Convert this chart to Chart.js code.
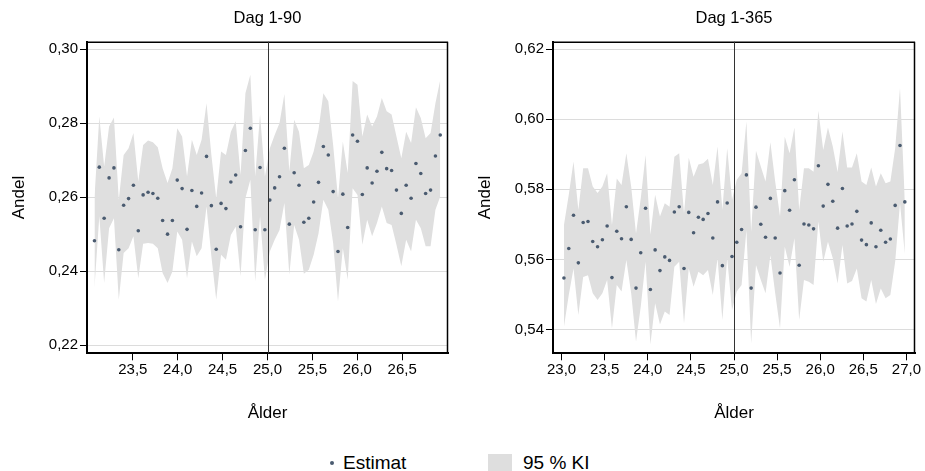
<!DOCTYPE html>
<html>
<head>
<meta charset="utf-8">
<script src="https://cdn.jsdelivr.net/npm/chart.js@4/dist/chart.umd.min.js"></script>
<style>
  body { margin: 0; background: #fff; font-family: "Liberation Sans", Arial, sans-serif; }
  #wrap { position: relative; width: 925px; height: 471px; }
  canvas { position: absolute; top: 0; }
  #left { left: 0; }
  #right { left: 462px; }
  .leg { position: absolute; font-size: 19px; color: #000; line-height: 20px; }
  .dot { position: absolute; width: 4px; height: 4px; border-radius: 50%; background: #4a5b70; }
  .box { position: absolute; background: #dedede; }
</style>
</head>
<body>
<div id="wrap">
  <canvas id="left" width="462" height="430"></canvas>
  <canvas id="right" width="463" height="430"></canvas>
  <div class="dot" style="left:330px; top:461px;"></div>
  <div class="leg" style="left:343px; top:453px;">Estimat</div>
  <div class="box" style="left:488px; top:454px; width:24px; height:17px;"></div>
  <div class="leg" style="left:523px; top:453px;">95 % KI</div>
</div>
<script>
// ---- Dag 1-90 ----
const ageLeft = [
  23.073, 23.127, 23.181, 23.236, 23.290, 23.344, 23.398, 23.453, 23.507, 23.561,
  23.615, 23.670, 23.724, 23.778, 23.832, 23.887, 23.941, 23.995, 24.049, 24.104,
  24.158, 24.212, 24.266, 24.321, 24.375, 24.429, 24.483, 24.537, 24.592, 24.646,
  24.700, 24.754, 24.809, 24.863, 24.917, 24.971, 25.026, 25.080, 25.134, 25.188,
  25.243, 25.297, 25.351, 25.405, 25.460, 25.514, 25.568, 25.622, 25.677, 25.731,
  25.785, 25.839, 25.893, 25.948, 26.002, 26.056, 26.110, 26.165, 26.219, 26.273,
  26.327, 26.382, 26.436, 26.490, 26.544, 26.599, 26.653, 26.707, 26.761, 26.816,
  26.870, 26.924
];
const estLeft = [
  0.2482, 0.2681, 0.2543, 0.2652, 0.2679, 0.2458, 0.2578, 0.2596, 0.2632, 0.2509,
  0.2606, 0.2613, 0.2610, 0.2597, 0.2537, 0.2500, 0.2537, 0.2646, 0.2623, 0.2513,
  0.2618, 0.2575, 0.2611, 0.2710, 0.2577, 0.2459, 0.2583, 0.2569, 0.2641, 0.2660,
  0.2520, 0.2726, 0.2786, 0.2512, 0.2680, 0.2512, 0.2592, 0.2625, 0.2655, 0.2732,
  0.2527, 0.2666, 0.2632, 0.2532, 0.2543, 0.2587, 0.2640, 0.2737, 0.2714, 0.2615,
  0.2453, 0.2608, 0.2518, 0.2768, 0.2751, 0.2607, 0.2679, 0.2638, 0.2670, 0.2721,
  0.2677, 0.2672, 0.2619, 0.2556, 0.2632, 0.2597, 0.2691, 0.2664, 0.2610, 0.2619,
  0.2711, 0.2768
];
const highLeft = [
  0.2597, 0.2818, 0.2683, 0.2791, 0.2815, 0.2593, 0.2714, 0.2732, 0.2773, 0.2642,
  0.2741, 0.2753, 0.2748, 0.2735, 0.2678, 0.2638, 0.2678, 0.2786, 0.2764, 0.2656,
  0.2755, 0.2714, 0.2755, 0.2854, 0.2714, 0.2597, 0.2723, 0.2714, 0.2777, 0.2805,
  0.2660, 0.2881, 0.2931, 0.2656, 0.2823, 0.2656, 0.2732, 0.2768, 0.2800, 0.2879,
  0.2669, 0.2809, 0.2777, 0.2678, 0.2687, 0.2723, 0.2782, 0.2881, 0.2859, 0.2741,
  0.2597, 0.2750, 0.2665, 0.2914, 0.2904, 0.2764, 0.2823, 0.2791, 0.2818, 0.2868,
  0.2832, 0.2823, 0.2764, 0.2705, 0.2777, 0.2746, 0.2843, 0.2814, 0.2759, 0.2773,
  0.2854, 0.2917
];
const lowLeft = [
  0.2354, 0.2548, 0.2368, 0.2516, 0.2543, 0.2323, 0.2449, 0.2462, 0.2494, 0.2381,
  0.2474, 0.2476, 0.2474, 0.2462, 0.2395, 0.2368, 0.2399, 0.2507, 0.2485, 0.2381,
  0.2480, 0.2440, 0.2462, 0.2575, 0.2440, 0.2323, 0.2444, 0.2431, 0.2498, 0.2520,
  0.2386, 0.2597, 0.2647, 0.2372, 0.2548, 0.2377, 0.2453, 0.2485, 0.2511, 0.2584,
  0.2390, 0.2525, 0.2485, 0.2393, 0.2404, 0.2444, 0.2502, 0.2593, 0.2566, 0.2476,
  0.2318, 0.2462, 0.2377, 0.2624, 0.2606, 0.2471, 0.2539, 0.2494, 0.2530, 0.2575,
  0.2530, 0.2525, 0.2471, 0.2413, 0.2485, 0.2453, 0.2539, 0.2516, 0.2467, 0.2467,
  0.2566, 0.2602
];
const xTicksLeft = [23.5, 24.0, 24.5, 25.0, 25.5, 26.0, 26.5];
const yTicksLeft = [0.22, 0.24, 0.26, 0.28, 0.30];

// ---- Dag 1-365 ----
const ageRight = [
  23.027, 23.083, 23.138, 23.194, 23.250, 23.306, 23.361, 23.417, 23.473, 23.528,
  23.584, 23.640, 23.695, 23.751, 23.807, 23.863, 23.918, 23.974, 24.030, 24.085,
  24.141, 24.197, 24.252, 24.308, 24.364, 24.420, 24.475, 24.531, 24.587, 24.642,
  24.698, 24.754, 24.809, 24.865, 24.921, 24.977, 25.032, 25.088, 25.144, 25.199,
  25.255, 25.311, 25.366, 25.422, 25.478, 25.534, 25.589, 25.645, 25.701, 25.756,
  25.812, 25.868, 25.923, 25.979, 26.035, 26.090, 26.146, 26.202, 26.258, 26.313,
  26.369, 26.425, 26.480, 26.536, 26.592, 26.647, 26.703, 26.759, 26.814, 26.870,
  26.926, 26.982
];
const estRight = [
  0.5547, 0.5631, 0.5726, 0.5590, 0.5705, 0.5708, 0.5651, 0.5636, 0.5656, 0.5695,
  0.5548, 0.5680, 0.5659, 0.5750, 0.5657, 0.5518, 0.5619, 0.5746, 0.5514, 0.5627,
  0.5568, 0.5607, 0.5597, 0.5735, 0.5750, 0.5574, 0.5734, 0.5676, 0.5720, 0.5714,
  0.5731, 0.5661, 0.5764, 0.5582, 0.5761, 0.5608, 0.5649, 0.5685, 0.5841, 0.5518,
  0.5749, 0.5700, 0.5663, 0.5774, 0.5661, 0.5561, 0.5796, 0.5740, 0.5827, 0.5583,
  0.5701, 0.5698, 0.5687, 0.5867, 0.5752, 0.5814, 0.5766, 0.5689, 0.5802, 0.5695,
  0.5701, 0.5737, 0.5655, 0.5642, 0.5704, 0.5636, 0.5683, 0.5649, 0.5658, 0.5754,
  0.5925, 0.5764
];
const highRight = [
  0.5698, 0.5784, 0.5879, 0.5741, 0.5860, 0.5860, 0.5808, 0.5789, 0.5808, 0.5846,
  0.5698, 0.5831, 0.5812, 0.5903, 0.5808, 0.5674, 0.5774, 0.5898, 0.5670, 0.5784,
  0.5722, 0.5760, 0.5750, 0.5893, 0.5903, 0.5731, 0.5890, 0.5836, 0.5871, 0.5874,
  0.5887, 0.5812, 0.5922, 0.5741, 0.5917, 0.5770, 0.5827, 0.5846, 0.5993, 0.5679,
  0.5910, 0.5865, 0.5822, 0.5934, 0.5822, 0.5722, 0.5950, 0.5903, 0.5976, 0.5741,
  0.5860, 0.5860, 0.5850, 0.6024, 0.5912, 0.5976, 0.5922, 0.5849, 0.5965, 0.5862,
  0.5862, 0.5903, 0.5822, 0.5812, 0.5862, 0.5808, 0.5846, 0.5817, 0.5822, 0.5917,
  0.6089, 0.5765
];
const lowRight = [
  0.5408, 0.5498, 0.5574, 0.5441, 0.5550, 0.5555, 0.5503, 0.5484, 0.5503, 0.5541,
  0.5403, 0.5527, 0.5508, 0.5598, 0.5503, 0.5365, 0.5465, 0.5593, 0.5357, 0.5475,
  0.5414, 0.5451, 0.5441, 0.5579, 0.5593, 0.5417, 0.5574, 0.5522, 0.5565, 0.5555,
  0.5570, 0.5498, 0.5603, 0.5427, 0.5603, 0.5455, 0.5508, 0.5527, 0.5684, 0.5360,
  0.5584, 0.5541, 0.5503, 0.5612, 0.5503, 0.5403, 0.5636, 0.5579, 0.5660, 0.5427,
  0.5541, 0.5536, 0.5527, 0.5708, 0.5593, 0.5650, 0.5603, 0.5531, 0.5641, 0.5531,
  0.5538, 0.5574, 0.5489, 0.5480, 0.5541, 0.5473, 0.5517, 0.5489, 0.5498, 0.5593,
  0.5760, 0.5615
];
const xTicksRight = [23.0, 23.5, 24.0, 24.5, 25.0, 25.5, 26.0, 26.5, 27.0];
const yTicksRight = [0.54, 0.56, 0.58, 0.60, 0.62];

const cutoff = 25.0;

const FONT = '"Liberation Sans", Arial, sans-serif';
Chart.defaults.font.family = FONT;
Chart.defaults.color = '#000';

// ram (topp + höger) och lodrät linje vid 25 år
const framePlugin = {
  id: 'frame',
  afterDatasetsDraw(chart) {
    const { ctx, chartArea: a, scales } = chart;
    ctx.save();
    ctx.strokeStyle = '#000';
    ctx.lineWidth = 1.5;
    ctx.beginPath();
    ctx.moveTo(a.left, a.top + 0.5);
    ctx.lineTo(a.right, a.top + 0.5);
    ctx.moveTo(a.right - 0.5, a.top);
    ctx.lineTo(a.right - 0.5, a.bottom);
    ctx.stroke();
    const x = Math.round(scales.x.getPixelForValue(cutoff)) + 0.5;
    ctx.strokeStyle = '#333';
    ctx.lineWidth = 1;
    ctx.beginPath();
    ctx.moveTo(x, a.top);
    ctx.lineTo(x, a.bottom);
    ctx.stroke();
    ctx.restore();
  }
};

function pts(xs, ys) {
  return xs.map((x, i) => ({ x: x, y: ys[i] }));
}

function makeChart(id, p) {
  return new Chart(document.getElementById(id), {
    type: 'line',
    data: {
      datasets: [
        {
          type: 'scatter',
          label: 'Estimat',
          data: pts(p.age, p.est),
          pointRadius: 1.8,
          pointBackgroundColor: '#4a5b70',
          pointBorderWidth: 0
        },
        {
          label: 'hi',
          data: pts(p.age, p.high),
          borderColor: 'rgba(0,0,0,0)',
          borderWidth: 0,
          pointRadius: 0,
          tension: 0,
          fill: '+1',
          backgroundColor: '#dfdfdf'
        },
        {
          label: 'lo',
          data: pts(p.age, p.low),
          borderColor: 'rgba(0,0,0,0)',
          borderWidth: 0,
          pointRadius: 0,
          tension: 0,
          fill: false
        }
      ]
    },
    options: {
      responsive: false,
      animation: false,
      events: [],
      layout: { padding: { left: 0, right: p.padRight, top: 0, bottom: 0 } },
      plugins: {
        legend: { display: false },
        tooltip: { enabled: false },
        title: {
          display: true,
          text: p.title,
          fullSize: false,
          color: '#000',
          font: { size: 16.5, weight: 'normal' },
          padding: { top: 8.6, bottom: 13.3 }
        }
      },
      scales: {
        x: {
          type: 'linear',
          min: p.xMin,
          max: p.xMax,
          afterBuildTicks: s => { s.ticks = p.xTicks.map(v => ({ value: v })); },
          afterFit: s => { s.height = 76.7; },
          ticks: {
            autoSkip: false,
            maxRotation: 0,
            padding: 1,
            font: { size: 15 },
            color: '#000',
            callback: v => v.toFixed(1).replace('.', ',')
          },
          grid: { drawOnChartArea: false, tickLength: 7, tickColor: '#000', tickWidth: 1 },
          border: { color: '#000', width: 2 },
          title: {
            display: true,
            text: 'Ålder',
            color: '#000',
            font: { size: 17 },
            padding: { bottom: 6.8 }
          }
        },
        y: {
          min: p.yMin,
          max: p.yMax,
          afterBuildTicks: s => { s.ticks = p.yTicks.map(v => ({ value: v })); },
          afterFit: s => { s.width = p.yWidth; },
          ticks: {
            padding: 2,
            font: { size: 15 },
            color: '#000',
            callback: v => v.toFixed(2).replace('.', ',')
          },
          grid: { color: '#dcdcdc', lineWidth: 1, tickLength: 7, tickColor: '#000', tickWidth: 1 },
          border: { color: '#000', width: 2 },
          title: {
            display: true,
            text: 'Andel',
            color: '#000',
            font: { size: 17 },
            padding: { top: p.yTitlePad }
          }
        }
      }
    },
    plugins: [framePlugin]
  });
}

makeChart('left', {
  title: 'Dag 1-90',
  age: ageLeft, est: estLeft, high: highLeft, low: lowLeft,
  xTicks: xTicksLeft, yTicks: yTicksLeft,
  xMin: 22.99, xMax: 27.01, yMin: 0.2178, yMax: 0.3020,
  yWidth: 87, yTitlePad: 8.8, padRight: 14
});

makeChart('right', {
  title: 'Dag 1-365',
  age: ageRight, est: estRight, high: highRight, low: lowRight,
  xTicks: xTicksRight, yTicks: yTicksRight,
  xMin: 22.9, xMax: 27.1, yMin: 0.5332, yMax: 0.6221,
  yWidth: 91, yTitlePad: 12.8, padRight: 10
});
</script>
</body>
</html>
